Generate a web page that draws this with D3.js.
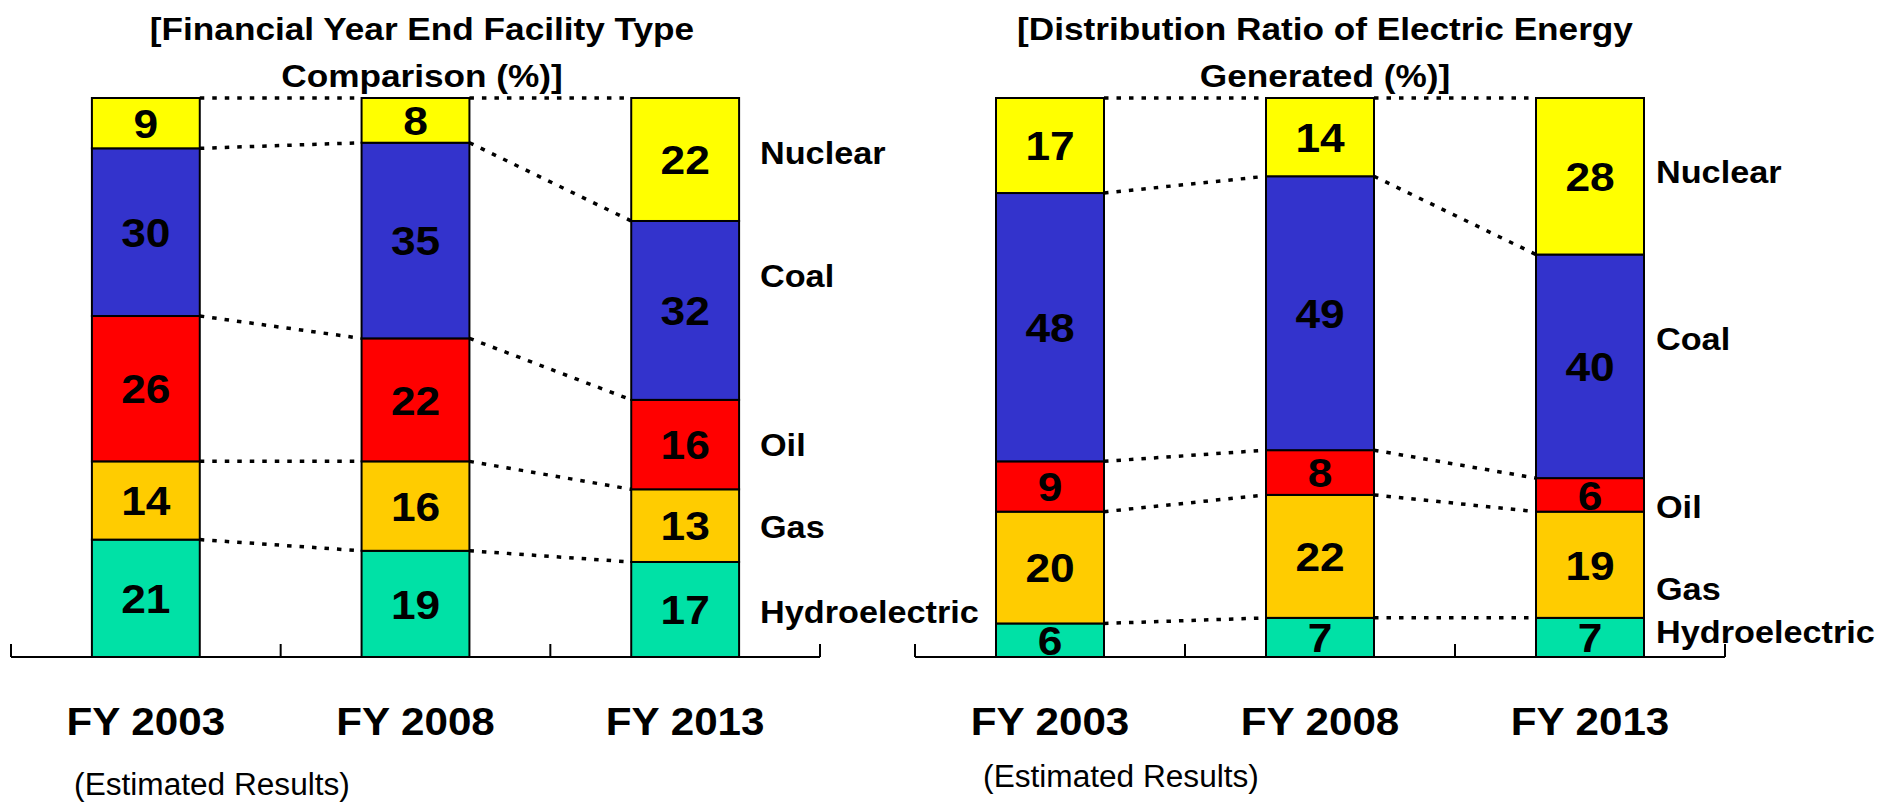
<!DOCTYPE html>
<html><head><meta charset="utf-8">
<script src="https://cdn.jsdelivr.net/npm/d3@7"></script>
<style>
body{margin:0;background:#fff}
svg{display:block}
text{font-family:"Liberation Sans",Arial,sans-serif;fill:#000}
</style>
</head><body>
<svg id="chart" width="1878" height="802"></svg>
<script>
// ---- data ----
const categories = ["FY 2003", "FY 2008", "FY 2013"];
const seriesNames = ["Hydroelectric", "Gas", "Oil", "Coal", "Nuclear"]; // bottom to top

const facilityTitle = ["[Financial Year End Facility Type", "Comparison (%)]"];
const facilityHydro   = [21, 19, 17];
const facilityGas     = [14, 16, 13];
const facilityOil     = [26, 22, 16];
const facilityCoal    = [30, 35, 32];
const facilityNuclear = [9, 8, 22];

const energyTitle = ["[Distribution Ratio of Electric Energy", "Generated (%)]"];
const energyHydro   = [6, 7, 7];
const energyGas     = [20, 22, 19];
const energyOil     = [9, 8, 6];
const energyCoal    = [48, 49, 40];
const energyNuclear = [17, 14, 28];

const noteText = "(Estimated Results)";

// ---- styles / layout ----
const colors = {Hydroelectric: "#00E1A6", Gas: "#FFCC00", Oil: "#FF0000", Coal: "#3333CC", Nuclear: "#FFFF00"};

const panels = [
  {title: facilityTitle,
   values: [facilityHydro, facilityGas, facilityOil, facilityCoal, facilityNuclear],
   range: [11, 820], titleX: 422, labelX: 760,
   labelLevels: [8.2, 23.4, 38.1, 68.2, 90.3],
   noteX: 212, noteY: 795},
  {title: energyTitle,
   values: [energyHydro, energyGas, energyOil, energyCoal, energyNuclear],
   range: [915, 1725], titleX: 1325, labelX: 1656,
   labelLevels: [4.5, 12.3, 27.0, 56.9, 86.8],
   noteX: 1121, noteY: 787}
];

const svg = d3.select("#chart");
const y = d3.scaleLinear().domain([0, 100]).range([657, 98]);

function sText(g, x, yy, str, size, weight, k, anchor, dy) {
  const t = g.append("text")
    .attr("transform", `translate(${x},${yy}) scale(${k},1)`)
    .attr("text-anchor", anchor)
    .attr("font-size", size)
    .attr("font-weight", weight)
    .text(str);
  if (dy) t.attr("dy", dy);
  return t;
}

panels.forEach(p => {
  const g = svg.append("g");
  const x = d3.scaleBand().domain(categories).range(p.range).paddingInner(0.6).paddingOuter(0.3);
  const bw = x.bandwidth();
  const rows = categories.map((c, i) => {
    const r = {cat: c};
    seriesNames.forEach((s, j) => r[s] = p.values[j][i]);
    return r;
  });
  const stacked = d3.stack().keys(seriesNames)(rows);

  // connectors
  stacked.forEach(layer => {
    for (let i = 0; i < layer.length - 1; i++) {
      const a = layer[i], b = layer[i + 1];
      g.append("line")
        .attr("x1", x(a.data.cat) + bw).attr("y1", y(a[1]))
        .attr("x2", x(b.data.cat)).attr("y2", y(b[1]))
        .attr("stroke", "#000").attr("stroke-width", 3.5)
        .attr("stroke-dasharray", "4.5 8");
    }
  });

  // bars
  stacked.forEach(layer => {
    g.selectAll(null).data(layer).enter().append("rect")
      .attr("x", d => x(d.data.cat))
      .attr("y", d => y(d[1]))
      .attr("width", bw)
      .attr("height", d => y(d[0]) - y(d[1]))
      .attr("fill", colors[layer.key])
      .attr("stroke", "#000").attr("stroke-width", 2);
  });

  // value labels
  stacked.forEach(layer => {
    layer.forEach(d => {
      sText(g, x(d.data.cat) + bw / 2, (y(d[0]) + y(d[1])) / 2, String(d[1] - d[0]),
            41, "bold", 1.08, "middle", "0.36em");
    });
  });

  // axis
  const step = x.step();
  g.append("line")
    .attr("x1", p.range[0]).attr("x2", p.range[1])
    .attr("y1", y(0)).attr("y2", y(0))
    .attr("stroke", "#000").attr("stroke-width", 2);
  d3.range(categories.length + 1).forEach(i => {
    const tx = p.range[0] + i * step;
    g.append("line").attr("x1", tx).attr("x2", tx)
      .attr("y1", y(0)).attr("y2", y(0) - 13)
      .attr("stroke", "#000").attr("stroke-width", 2);
  });

  // category labels
  categories.forEach(c => {
    sText(g, x(c) + bw / 2, 735, c, 38, "bold", 1.11, "middle");
  });

  // title
  sText(g, p.titleX, 40, p.title[0], 32, "bold", 1.1, "middle");
  sText(g, p.titleX, 87, p.title[1], 32, "bold", 1.1, "middle");

  // series labels
  seriesNames.forEach((s, j) => {
    sText(g, p.labelX, y(p.labelLevels[j]), s, 32, "bold", 1.07, "start", "0.36em");
  });

  // note
  sText(g, p.noteX, p.noteY, noteText, 31, "normal", 1.02, "middle");
});
</script>
</body></html>
